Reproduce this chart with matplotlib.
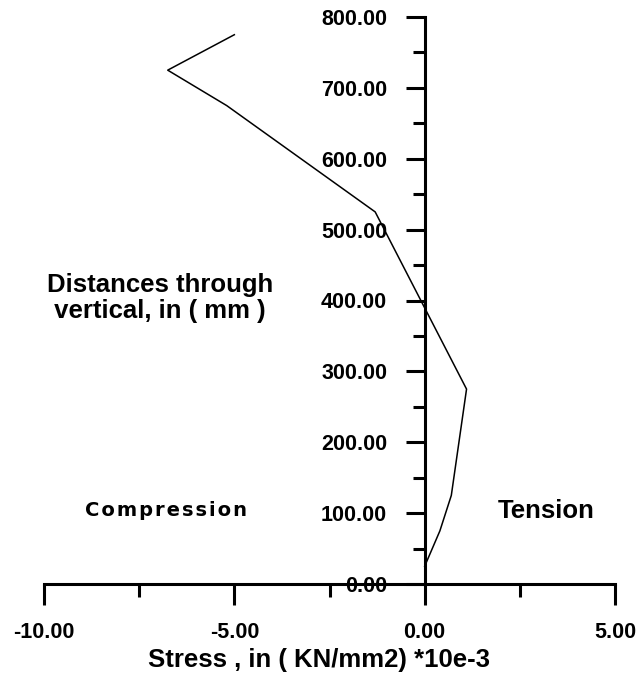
import matplotlib
matplotlib.use("Agg")
import matplotlib.pyplot as plt
from matplotlib.ticker import MultipleLocator, FormatStrFormatter

# stress profile through the depth of the section
stress = [0.0, 0.4, 0.7, 1.1, -1.3, -5.2, -6.75, -5.0]
depth = [25, 75, 125, 275, 525, 675, 725, 775]

x_ticks = [-10, -5, 0, 5]
y_ticks = [0, 100, 200, 300, 400, 500, 600, 700, 800]

plt.rcParams['font.family'] = ['Liberation Sans', 'DejaVu Sans']
plt.rcParams['font.weight'] = 'bold'

W, H = 636, 676
fig = plt.figure(figsize=(W / 100, H / 100), dpi=100)
ax = fig.add_axes([44 / W, (H - 584) / H, (615 - 44) / W, (584 - 17) / H])

ax.plot(stress, depth, color='black', lw=1.1)

ax.set_xlim(-10, 5)
ax.set_ylim(0, 800)

for s in ['top', 'right']:
    ax.spines[s].set_visible(False)
ax.spines['left'].set_position(('data', 0))
ax.spines['bottom'].set_position(('data', 0))
ax.spines['left'].set_linewidth(2.2)
ax.spines['bottom'].set_linewidth(2.2)

ax.set_xticks(x_ticks)
ax.set_yticks(y_ticks)
ax.xaxis.set_minor_locator(MultipleLocator(2.5))
ax.yaxis.set_minor_locator(MultipleLocator(50))
ax.xaxis.set_major_formatter(FormatStrFormatter('%.2f'))
ax.yaxis.set_major_formatter(FormatStrFormatter('%.2f'))

ax.tick_params(axis='x', which='major', direction='out', length=15, width=2.2,
               pad=12, labelsize=15.5)
ax.tick_params(axis='x', which='minor', direction='out', length=9, width=2.2)
ax.tick_params(axis='y', which='major', direction='out', length=14, width=2.2,
               pad=13, labelsize=15.5)
ax.tick_params(axis='y', which='minor', direction='out', length=9, width=2.2)
for lab in ax.get_xticklabels() + ax.get_yticklabels():
    lab.set_fontweight('bold')

fig.text(319 / W, 1 - 660 / H, 'Stress , in ( KN/mm2) *10e-3', ha='center',
         va='center', fontsize=18.5, fontweight='bold')
fig.text(47 / W, 1 - 298 / H, 'Distances through\n vertical, in ( mm )',
         ha='left', va='center', fontsize=18.5, fontweight='bold',
         linespacing=1.15)
fig.text(546 / W, 1 - 511 / H, 'Tension', ha='center', va='center',
         fontsize=18.5, fontweight='bold')
fig.text(166 / W, 1 - 511 / H, '\u200a'.join('Compression'), ha='center',
         va='center', fontsize=14, fontweight='bold', family='DejaVu Sans')

fig.savefig('out.png', dpi=100)
